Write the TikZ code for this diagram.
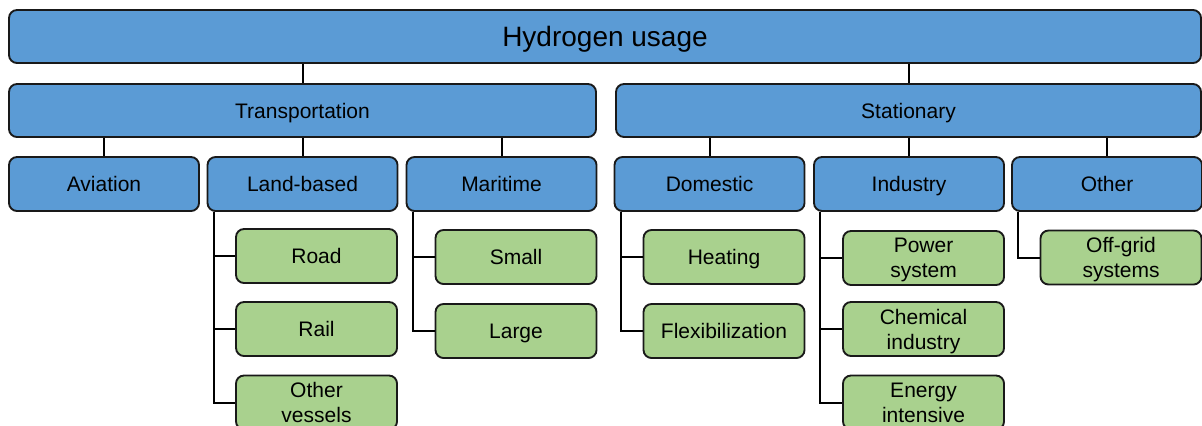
\documentclass[tikz,border=0pt]{standalone}
\usepackage{fontspec}
\setmainfont{Liberation Sans}
\usepackage{xcolor}
\definecolor{boxblue}{HTML}{5B9BD5}
\definecolor{boxgreen}{HTML}{A9D18E}

\begin{document}
\begin{tikzpicture}[x=0.75pt,y=0.75pt,yscale=-1,xscale=1,
    catbox/.style={draw=black!90, line width=1.4pt, rounded corners=6pt, fill=boxblue, inner sep=0pt, text depth=0pt, align=center, font=\fontsize{15.75}{18.75}\selectfont},
    usebox/.style={draw=black!90, line width=1.4pt, rounded corners=6pt, fill=boxgreen, inner sep=0pt, text depth=0pt, align=center, minimum width=120.75pt, minimum height=40.5pt, font=\fontsize{15.75}{18.75}\selectfont},
    link/.style={draw=black, line width=1.5pt}]
    \useasboundingbox (0,0) rectangle (1202,425);
    
    % Top level
    \node [catbox, minimum width=894pt, minimum height=39.75pt, font=\fontsize{21}{24}\selectfont] (usage) at (605,36.5) {Hydrogen usage};
    
    % Second level
    \node [catbox, minimum width=440.25pt, minimum height=39.75pt] (transport) at (302.5,110.5) {Transportation};
    \node [catbox, minimum width=438.75pt, minimum height=39.75pt] (stationary) at (908.5,110.5) {Stationary};
    
    % Third level
    \node [catbox, minimum width=142.5pt, minimum height=40.5pt] (aviation) at (104,184) {Aviation};
    \node [catbox, minimum width=142.5pt, minimum height=40.5pt] (land) at (302.5,184) {Land-based};
    \node [catbox, minimum width=142.5pt, minimum height=40.5pt] (maritime) at (501.5,184) {Maritime};
    \node [catbox, minimum width=142.5pt, minimum height=40.5pt] (domestic) at (709.5,184) {Domestic};
    \node [catbox, minimum width=142.5pt, minimum height=40.5pt] (industry) at (909,184) {Industry};
    \node [catbox, minimum width=142.5pt, minimum height=40.5pt] (other) at (1107,184) {Other};
    
    % Leaves
    \node [usebox] (road) at (316.5,256) {Road};
    \node [usebox] (rail) at (316.5,329) {Rail};
    \node [usebox] (vessels) at (316.5,402.5) {Other\\vessels};
    \node [usebox] (small) at (516,257) {Small};
    \node [usebox] (large) at (516,331) {Large};
    \node [usebox] (heating) at (724,257) {Heating};
    \node [usebox] (flex) at (724,331) {Flexibilization};
    \node [usebox] (power) at (923.5,258) {Power\\system};
    \node [usebox] (chemical) at (923.5,329) {Chemical\\industry};
    \node [usebox] (energy) at (923.5,402.5) {Energy\\intensive};
    \node [usebox] (offgrid) at (1121,257.5) {Off-grid\\systems};
    
    % Straight links
    \foreach \a/\b in {usage/transport, usage/stationary, transport/aviation, transport/land, transport/maritime, stationary/domestic, stationary/industry, stationary/other}
        \draw [link] (\a.south -| \b.north) -- (\b.north);
    
    % Elbow links
    \foreach \a/\b in {land/road, land/rail, land/vessels, maritime/small, maritime/large, domestic/heating, domestic/flex, industry/power, industry/chemical, industry/energy, other/offgrid}
        \draw [link] ([xshift=5.25pt]\a.south west) |- (\b.west);
    
\end{tikzpicture}
\end{document}
